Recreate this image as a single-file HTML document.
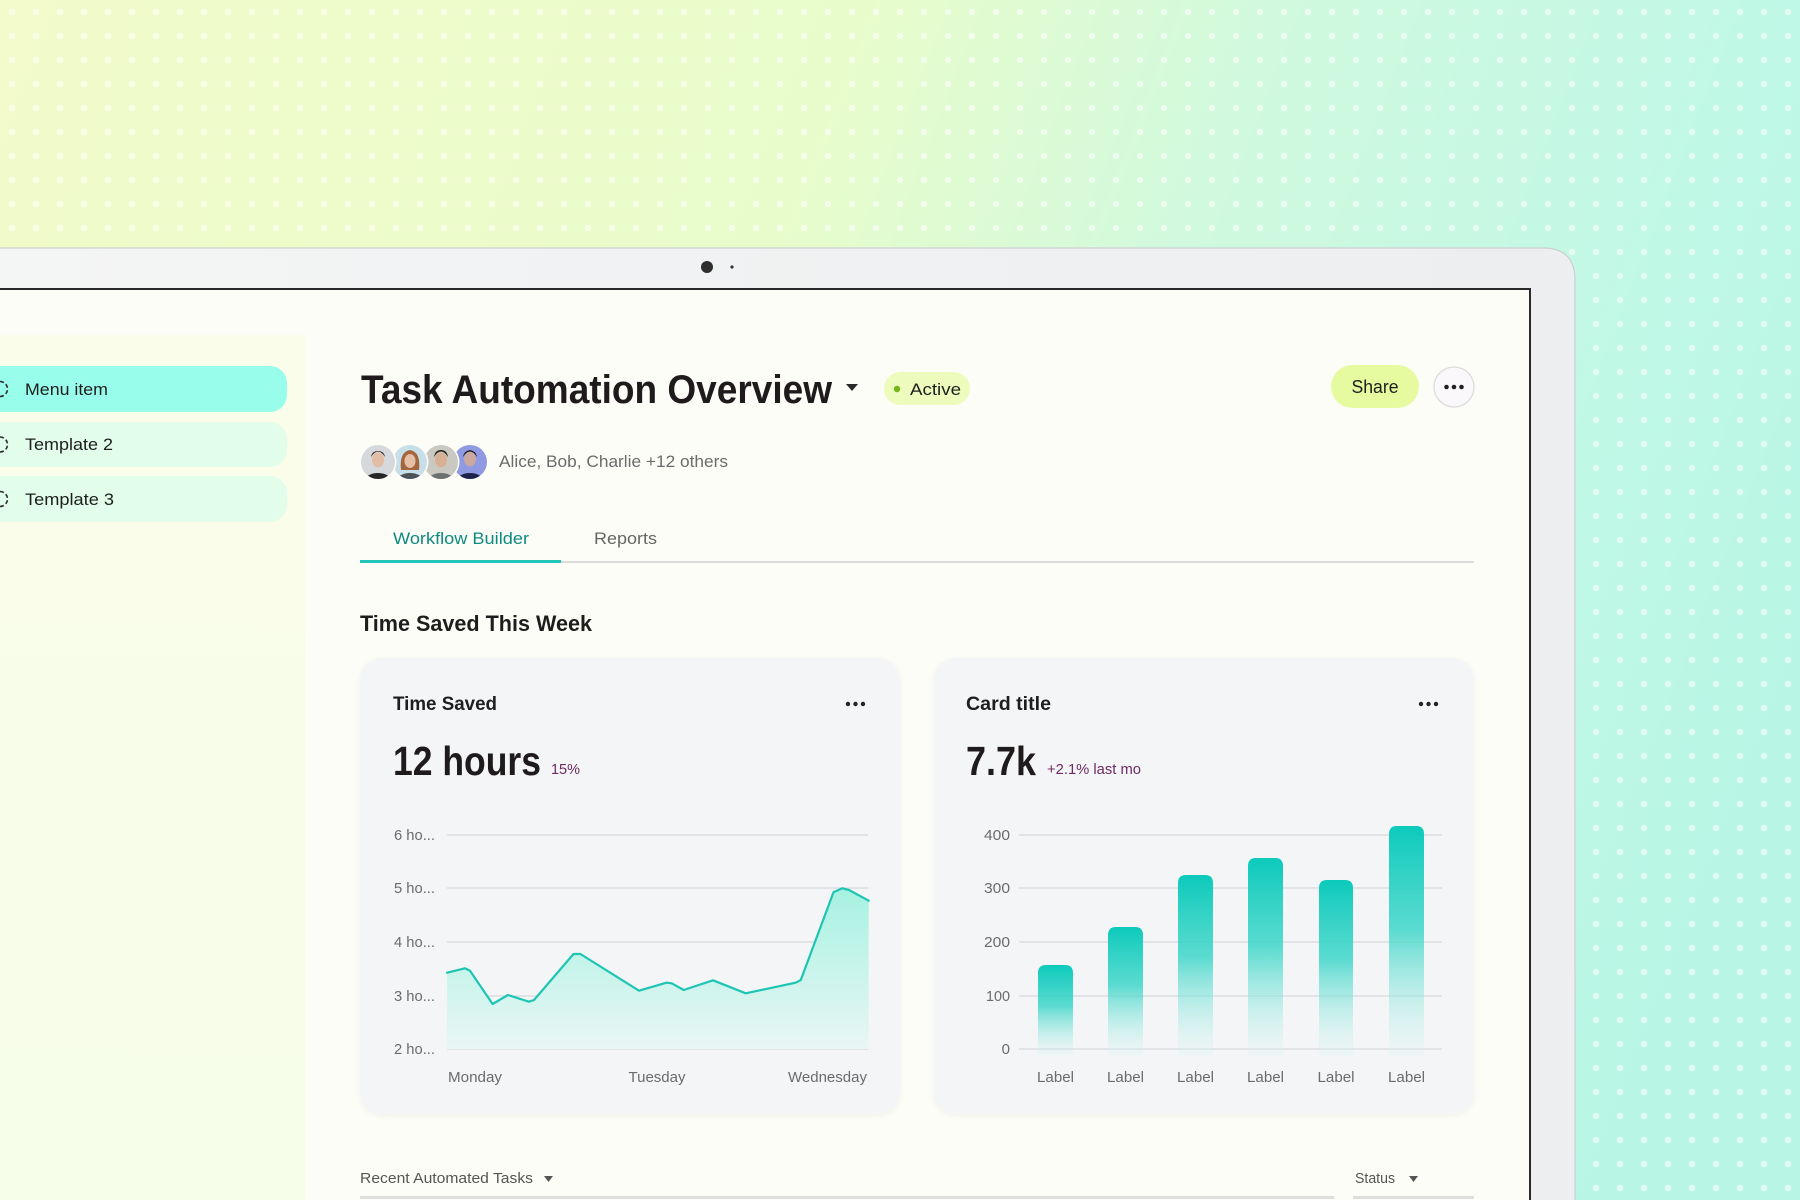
<!DOCTYPE html>
<html><head><meta charset="utf-8"><style>
html,body{margin:0;padding:0;width:1800px;height:1200px;overflow:hidden;background:#e8fbd0}
svg{display:block;font-family:"Liberation Sans",sans-serif;overflow:hidden}
</style></head><body>
<svg width="1800" height="1200" viewBox="0 0 1800 1200" xmlns="http://www.w3.org/2000/svg">
<defs>
<linearGradient id="bg" x1="0" y1="0" x2="1800" y2="700" gradientUnits="userSpaceOnUse">
<stop offset="0" stop-color="#f2fbc9"/><stop offset="0.42" stop-color="#e8fccb"/><stop offset="0.62" stop-color="#d0f9de"/><stop offset="0.85" stop-color="#c0f8e6"/><stop offset="1" stop-color="#b8f5e4"/>
</linearGradient>
<pattern id="dots" x="0" y="0" width="24" height="24" patternUnits="userSpaceOnUse">
<circle cx="12" cy="12" r="3.3" fill="#ffffff" fill-opacity="0.55"/>
</pattern>
<linearGradient id="bez" x1="0" y1="0" x2="1575" y2="0" gradientUnits="userSpaceOnUse">
<stop offset="0" stop-color="#f4f5f5"/><stop offset="1" stop-color="#eceef0"/>
</linearGradient>
<linearGradient id="side" x1="0" y1="335" x2="0" y2="1200" gradientUnits="userSpaceOnUse">
<stop offset="0" stop-color="#fafdea"/><stop offset="1" stop-color="#f6fde9"/>
</linearGradient>
<linearGradient id="area" x1="0" y1="888" x2="0" y2="1049" gradientUnits="userSpaceOnUse">
<stop offset="0" stop-color="#a6f2e1"/><stop offset="1" stop-color="#e9f6f5"/>
</linearGradient>
<linearGradient id="bar" x1="0" y1="0" x2="0" y2="1">
<stop offset="0" stop-color="#0ccabb"/><stop offset="0.45" stop-color="#3fd6c9" stop-opacity="0.85"/><stop offset="1" stop-color="#d8f6f2" stop-opacity="0.2"/>
</linearGradient>
<filter id="sh" x="-5%" y="-5%" width="110%" height="115%">
<feDropShadow dx="0" dy="2" stdDeviation="3" flood-color="#000" flood-opacity="0.05"/>
</filter>
<clipPath id="c1"><circle cx="378" cy="462" r="17"/></clipPath>
<clipPath id="c2"><circle cx="410" cy="462" r="17"/></clipPath>
<clipPath id="c3"><circle cx="441" cy="462" r="17"/></clipPath>
<clipPath id="c4"><circle cx="470" cy="462" r="17"/></clipPath>
</defs>

<!-- background -->
<rect x="0" y="0" width="1800" height="1200" fill="url(#bg)"/>
<rect x="0" y="0" width="1800" height="1200" fill="url(#dots)"/>

<!-- bezel -->
<path d="M0,248 H1543 Q1575,248 1575,280 V1200 H0 Z" fill="url(#bez)"/>
<path d="M0,248 H1543 Q1575,248 1575,280 V1200" fill="none" stroke="#cbd0d2" stroke-width="1.2"/>
<circle cx="707" cy="267" r="6" fill="#2e2e2e"/>
<circle cx="732" cy="267" r="1.6" fill="#333"/>

<!-- screen -->
<rect x="0" y="289" width="1530" height="911" fill="#fdfdf8"/>
<path d="M0,289 H1530 V1200" fill="none" stroke="#2a2a2a" stroke-width="2"/>

<!-- sidebar -->
<rect x="0" y="335" width="305" height="865" fill="url(#side)"/>
<rect x="0" y="366" width="287" height="46" rx="17" fill="#98fdeb"/>
<rect x="0" y="366" width="30" height="46" fill="#98fdeb"/>
<rect x="0" y="422" width="287" height="45" rx="17" fill="#e2fde9"/>
<rect x="0" y="422" width="30" height="45" fill="#e2fde9"/>
<rect x="0" y="476" width="287" height="46" rx="17" fill="#e2fde9"/>
<rect x="0" y="476" width="30" height="46" fill="#e2fde9"/>
<g fill="none" stroke="#2a2a2a" stroke-width="1.6" stroke-dasharray="4 2.5">
<path d="M0,381.5 A7.5,7.5 0 0 1 0,396.5"/><path d="M0,437 A7.5,7.5 0 0 1 0,452"/><path d="M0,491.5 A7.5,7.5 0 0 1 0,506.5"/>
</g>
<g font-size="17" fill="#1e1e1e">
<text x="25" y="395" textLength="83" lengthAdjust="spacingAndGlyphs">Menu item</text>
<text x="25" y="450" textLength="88" lengthAdjust="spacingAndGlyphs">Template 2</text>
<text x="25" y="505" textLength="89" lengthAdjust="spacingAndGlyphs">Template 3</text>
</g>

<!-- header -->
<text x="361" y="403" font-size="40" font-weight="bold" fill="#1f1a1c" textLength="471" lengthAdjust="spacingAndGlyphs">Task Automation Overview</text>
<path d="M846,384 H858 L852,391 Z" fill="#2a2a2a"/>
<rect x="884" y="372" width="86" height="33" rx="16.5" fill="#edfbbc"/>
<circle cx="897" cy="389" r="3.2" fill="#78b41a"/>
<text x="910" y="395" font-size="17" fill="#1e1e1e" textLength="51" lengthAdjust="spacingAndGlyphs">Active</text>

<rect x="1331" y="365" width="88" height="43" rx="21.5" fill="#e6fb9f"/>
<text x="1375" y="393" font-size="18" fill="#1e1e1e" text-anchor="middle" textLength="47" lengthAdjust="spacingAndGlyphs">Share</text>
<circle cx="1454" cy="387" r="20" fill="#fbf8fb" stroke="#dcdcdc" stroke-width="1.3"/>
<circle cx="1446.5" cy="387" r="2.3" fill="#222"/><circle cx="1454" cy="387" r="2.3" fill="#222"/><circle cx="1461.5" cy="387" r="2.3" fill="#222"/>

<!-- avatars -->
<circle cx="470" cy="462" r="18.5" fill="#fdfdf8"/>
<g clip-path="url(#c4)">
<rect x="450" y="442" width="40" height="40" fill="#8f9ae2"/>
<ellipse cx="470" cy="482" rx="14" ry="9" fill="#1b2448"/>
<ellipse cx="470" cy="459" rx="6" ry="7.5" fill="#c9a9a0"/>
<path d="M463,457 Q470,446 477,457 Q476,451 470,450 Q464,451 463,457 Z" fill="#1a1a22"/>
</g>
<circle cx="441" cy="462" r="18.5" fill="#fdfdf8"/>
<g clip-path="url(#c3)">
<rect x="421" y="442" width="40" height="40" fill="#c9c9c1"/>
<ellipse cx="441" cy="482" rx="14" ry="9" fill="#6d716e"/>
<ellipse cx="441" cy="460" rx="6" ry="7.5" fill="#d8b194"/>
<path d="M434,457 Q441,446 448,457 Q447,450 441,450 Q435,450 434,457 Z" fill="#2a2422"/>
</g>
<circle cx="410" cy="462" r="18.5" fill="#fdfdf8"/>
<g clip-path="url(#c2)">
<rect x="390" y="442" width="40" height="40" fill="#c6dfe8"/>
<ellipse cx="410" cy="482" rx="14" ry="9" fill="#4e5358"/>
<path d="M401,470 Q399,452 410,450 Q421,452 419,470 Z" fill="#a5663f"/>
<ellipse cx="410" cy="461" rx="5.5" ry="7" fill="#e6c0a6"/>
</g>
<circle cx="378" cy="462" r="18.5" fill="#fdfdf8"/>
<g clip-path="url(#c1)">
<rect x="358" y="442" width="40" height="40" fill="#d6d9db"/>
<ellipse cx="378" cy="482" rx="14" ry="9" fill="#262626"/>
<ellipse cx="378" cy="460" rx="6" ry="7.5" fill="#e2bda3"/>
<path d="M371,457 Q378,446 385,457 Q384,451 378,451 Q372,451 371,457 Z" fill="#2a221e"/>
</g>
<text x="499" y="467" font-size="17" fill="#6b6b6b" textLength="229" lengthAdjust="spacingAndGlyphs">Alice, Bob, Charlie +12 others</text>

<!-- tabs -->
<text x="393" y="544" font-size="17" fill="#0e8a7e" textLength="136" lengthAdjust="spacingAndGlyphs">Workflow Builder</text>
<text x="594" y="544" font-size="17" fill="#666" textLength="63" lengthAdjust="spacingAndGlyphs">Reports</text>
<rect x="360" y="561" width="1114" height="2" fill="#dcdcdc"/>
<rect x="360" y="560" width="201" height="3" fill="#21c6b8"/>

<text x="360" y="631" font-size="22" font-weight="bold" fill="#1d1d1d" textLength="232" lengthAdjust="spacingAndGlyphs">Time Saved This Week</text>

<!-- cards -->
<rect x="360" y="658" width="540" height="456" rx="22" fill="#f4f5f6" filter="url(#sh)"/>
<rect x="934" y="658" width="540" height="456" rx="22" fill="#f4f5f6" filter="url(#sh)"/>

<!-- card 1 -->
<text x="393" y="710" font-size="19" font-weight="bold" fill="#1e1e1e" textLength="104" lengthAdjust="spacingAndGlyphs">Time Saved</text>
<circle cx="848" cy="704" r="2.2" fill="#222"/><circle cx="855.5" cy="704" r="2.2" fill="#222"/><circle cx="863" cy="704" r="2.2" fill="#222"/>
<text x="393" y="775" font-size="41" font-weight="bold" fill="#1f1a1c" textLength="148" lengthAdjust="spacingAndGlyphs">12 hours</text>
<text x="551" y="774" font-size="15" fill="#6d2b62" textLength="29" lengthAdjust="spacingAndGlyphs">15%</text>
<g stroke="#dcdde0" stroke-width="1.5">
<line x1="447" y1="835" x2="868" y2="835"/><line x1="447" y1="888" x2="868" y2="888"/><line x1="447" y1="942" x2="868" y2="942"/><line x1="447" y1="996" x2="868" y2="996"/><line x1="447" y1="1049" x2="868" y2="1049"/>
</g>
<path d="M447,972.7 L465,968.3 L470,970.7 L492.6,1004 L508,995 L528.8,1001.7 L534,1000 L573.5,954 L580.4,954 L639,990.7 L666.5,982.7 L671.7,983.3 L683.7,990 L713,980.3 L745.7,993.3 L795.7,982.7 L800.8,980 L833.5,892.3 L842.2,888.3 L849,890 L868.7,900.7 L868.7,1049 L447,1049 Z" fill="url(#area)"/>
<polyline points="447,972.7 465,968.3 470,970.7 492.6,1004 508,995 528.8,1001.7 534,1000 573.5,954 580.4,954 639,990.7 666.5,982.7 671.7,983.3 683.7,990 713,980.3 745.7,993.3 795.7,982.7 800.8,980 833.5,892.3 842.2,888.3 849,890 868.7,900.7" fill="none" stroke="#1ec5b4" stroke-width="2.2" stroke-linejoin="round" stroke-linecap="round"/>
<g font-size="15" fill="#6b6b6b">
<text x="394" y="840" textLength="41" lengthAdjust="spacingAndGlyphs">6 ho...</text>
<text x="394" y="893" textLength="41" lengthAdjust="spacingAndGlyphs">5 ho...</text>
<text x="394" y="947" textLength="41" lengthAdjust="spacingAndGlyphs">4 ho...</text>
<text x="394" y="1001" textLength="41" lengthAdjust="spacingAndGlyphs">3 ho...</text>
<text x="394" y="1054" textLength="41" lengthAdjust="spacingAndGlyphs">2 ho...</text>
<text x="448" y="1082" textLength="54" lengthAdjust="spacingAndGlyphs">Monday</text>
<text x="657" y="1082" text-anchor="middle" textLength="57" lengthAdjust="spacingAndGlyphs">Tuesday</text>
<text x="867" y="1082" text-anchor="end" textLength="79" lengthAdjust="spacingAndGlyphs">Wednesday</text>
</g>

<!-- card 2 -->
<text x="966" y="710" font-size="19" font-weight="bold" fill="#1e1e1e" textLength="85" lengthAdjust="spacingAndGlyphs">Card title</text>
<circle cx="1421" cy="704" r="2.2" fill="#222"/><circle cx="1428.5" cy="704" r="2.2" fill="#222"/><circle cx="1436" cy="704" r="2.2" fill="#222"/>
<text x="966" y="775" font-size="41" font-weight="bold" fill="#1f1a1c" textLength="70" lengthAdjust="spacingAndGlyphs">7.7k</text>
<text x="1047" y="774" font-size="15" fill="#6d2b62" textLength="94" lengthAdjust="spacingAndGlyphs">+2.1% last mo</text>
<g stroke="#dcdde0" stroke-width="1.5">
<line x1="1019" y1="835" x2="1442" y2="835"/><line x1="1019" y1="888" x2="1442" y2="888"/><line x1="1019" y1="942" x2="1442" y2="942"/><line x1="1019" y1="996" x2="1442" y2="996"/><line x1="1019" y1="1049" x2="1442" y2="1049"/>
</g>
<g fill="url(#bar)">
<path d="M1038,1056 V973 Q1038,965 1046,965 H1065 Q1073,965 1073,973 V1056 Z"/>
<path d="M1108,1056 V935 Q1108,927 1116,927 H1135 Q1143,927 1143,935 V1056 Z"/>
<path d="M1178,1056 V883 Q1178,875 1186,875 H1205 Q1213,875 1213,883 V1056 Z"/>
<path d="M1248,1056 V866 Q1248,858 1256,858 H1275 Q1283,858 1283,866 V1056 Z"/>
<path d="M1319,1056 V888 Q1319,880 1327,880 H1345 Q1353,880 1353,888 V1056 Z"/>
<path d="M1389,1056 V834 Q1389,826 1397,826 H1416 Q1424,826 1424,834 V1056 Z"/>
</g>
<g font-size="15" fill="#6b6b6b">
<text x="1010" y="840" text-anchor="end" textLength="26" lengthAdjust="spacingAndGlyphs">400</text>
<text x="1010" y="893" text-anchor="end" textLength="26" lengthAdjust="spacingAndGlyphs">300</text>
<text x="1010" y="947" text-anchor="end" textLength="26" lengthAdjust="spacingAndGlyphs">200</text>
<text x="1010" y="1001" text-anchor="end" textLength="24" lengthAdjust="spacingAndGlyphs">100</text>
<text x="1010" y="1054" text-anchor="end">0</text>
<text x="1055.5" y="1082" text-anchor="middle" textLength="37" lengthAdjust="spacingAndGlyphs">Label</text>
<text x="1125.5" y="1082" text-anchor="middle" textLength="37" lengthAdjust="spacingAndGlyphs">Label</text>
<text x="1195.5" y="1082" text-anchor="middle" textLength="37" lengthAdjust="spacingAndGlyphs">Label</text>
<text x="1265.5" y="1082" text-anchor="middle" textLength="37" lengthAdjust="spacingAndGlyphs">Label</text>
<text x="1336" y="1082" text-anchor="middle" textLength="37" lengthAdjust="spacingAndGlyphs">Label</text>
<text x="1406.5" y="1082" text-anchor="middle" textLength="37" lengthAdjust="spacingAndGlyphs">Label</text>
</g>

<!-- bottom table header -->
<text x="360" y="1183" font-size="15" fill="#555" textLength="173" lengthAdjust="spacingAndGlyphs">Recent Automated Tasks</text>
<path d="M544,1176 H553 L548.5,1182 Z" fill="#555"/>
<text x="1355" y="1183" font-size="15" fill="#555" textLength="40" lengthAdjust="spacingAndGlyphs">Status</text>
<path d="M1409,1176 H1418 L1413.5,1182 Z" fill="#555"/>
<rect x="360" y="1196" width="974" height="3" fill="#dedede"/>
<rect x="1353" y="1196" width="121" height="3" fill="#dedede"/>
</svg>
</body></html>
